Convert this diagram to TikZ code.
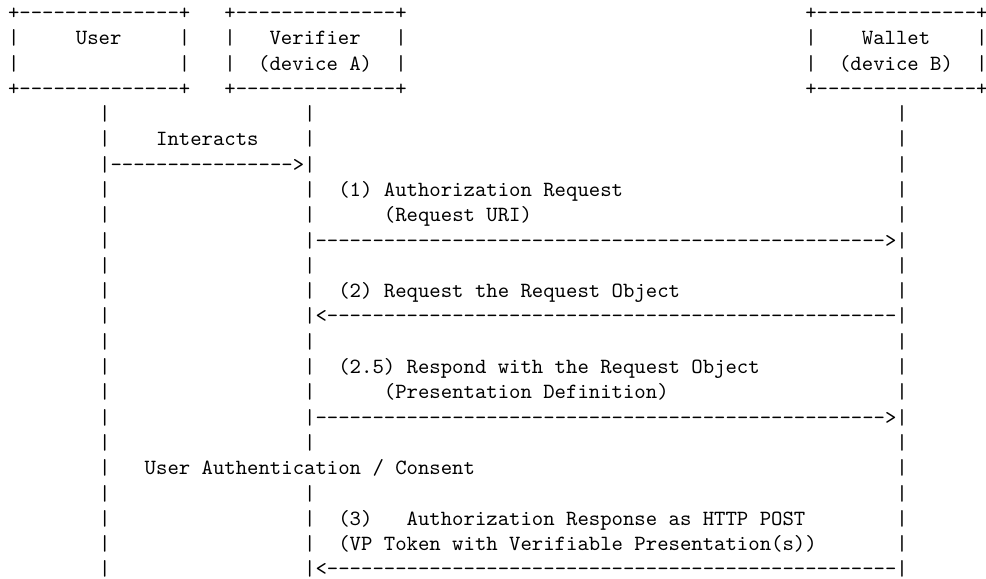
\documentclass[tikz,border=0pt]{standalone}
\usetikzlibrary{positioning}
\newcommand{\dashes}[1]{\foreach \k in {1,...,#1}{-}}

\begin{document}
\begin{tikzpicture}[x=5.25pt, y=11.66pt]
    \tikzstyle{ch}=[font=\ttfamily, inner sep=0pt, anchor=base west]
    \tikzstyle{lbl}=[ch, anchor=base]
    \useasboundingbox (-0.668,0.768) rectangle (85.90,-22.086);
    \foreach \c/\n/\a/\b in {0/user/User/, 19/verifier/Verifier/(device A), 70/wallet/Wallet/(device B)} {
        \node[ch] (\n-top) at (\c,0) {+\dashes{14}+};
        \node[ch] (\n-bot) at (\c,-3) {+\dashes{14}+};
        \foreach \r in {1,2} {
            \node[ch] (\n-l\r) at (\c,-\r) {|};
            \node[ch] (\n-r\r) at (\c+15,-\r) {|};
        }
        \node[lbl] (\n-name) at (\c+8,-1) {\a};
        \node[lbl] (\n-dev) at (\c+8,-2) {\b};
    }
    \foreach \r in {4,...,22} {
        \node[ch] (u\r) at (8,-\r) {|};
        \node[ch] (w\r) at (78,-\r) {|};
    }
    \foreach \r in {4,...,17} \node[ch] (v\r) at (26,-\r) {|};
    \foreach \r in {19,...,22} \node[ch] (v\r) at (26,-\r) {|};
    \node[ch] (interacts) at (13,-5) {Interacts};
    \node[ch] (a1) at (9,-6) {\dashes{16}>};
    \node[ch] (m1) at (29,-7) {(1) Authorization Request};
    \node[ch] (m1b) at (33,-8) {(Request URI)};
    \node[ch] (a2) at (27,-9) {\dashes{50}>};
    \node[ch] (m2) at (29,-11) {(2) Request the Request Object};
    \node[ch] (a3) at (27,-12) {<\dashes{50}};
    \node[ch] (m25) at (29,-14) {(2.5) Respond with the Request Object};
    \node[ch] (m25b) at (33,-15) {(Presentation Definition)};
    \node[ch] (a4) at (27,-16) {\dashes{50}>};
    \node[ch] (auth) at (12,-18) {User Authentication / Consent};
    \node[ch] (m3) at (29,-20) {(3)\ \ \ Authorization Response as HTTP POST};
    \node[ch] (m3b) at (29,-21) {(VP Token with Verifiable Presentation(s))};
    \node[ch] (a5) at (27,-22) {<\dashes{50}};
\end{tikzpicture}
\end{document}
